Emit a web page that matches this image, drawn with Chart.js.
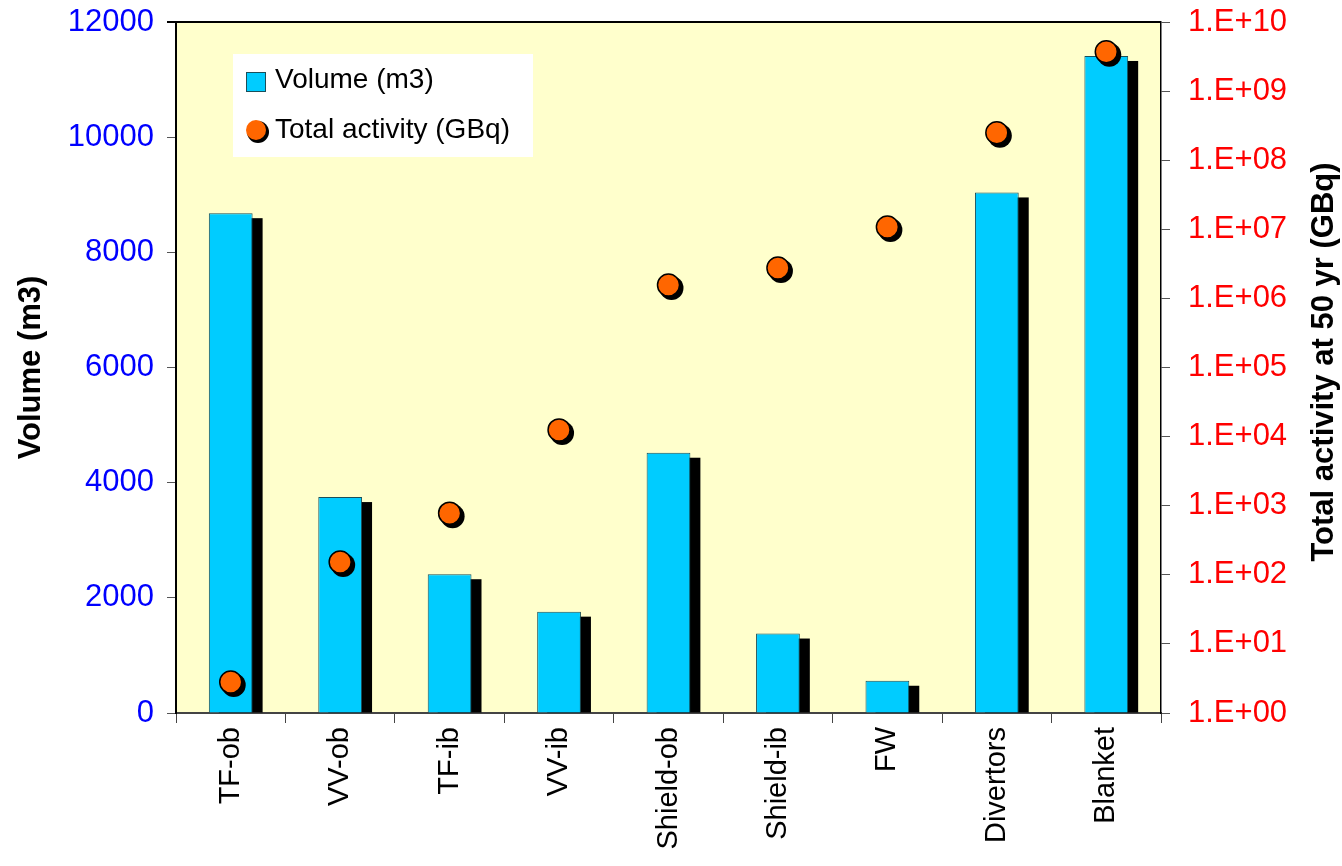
<!DOCTYPE html>
<html>
<head>
<meta charset="utf-8">
<title>Volume and activity</title>
<script src="https://cdn.jsdelivr.net/npm/chart.js@4.4.1/dist/chart.umd.min.js"></script>
<style>
  html, body { margin: 0; padding: 0; background: #fff; }
  #wrap { width: 1342px; height: 866px; position: relative; }
</style>
</head>
<body>
<div id="wrap"><canvas id="chart" width="1342" height="866"></canvas></div>
<script>
// components
const categories = ['TF-ob', 'VV-ob', 'TF-ib', 'VV-ib', 'Shield-ob', 'Shield-ib', 'FW', 'Divertors', 'Blanket'];
// volume in m3 (left axis)
const volume = [8680, 3750, 2410, 1760, 4520, 1380, 560, 9040, 11410];
// total activity at 50 yr in GBq (right axis, log)
const activity = [2.8, 153, 780, 12500, 1.56e6, 2.75e6, 1.08e7, 2.5e8, 3.7e9];
const activityTicks = [1, 1e1, 1e2, 1e3, 1e4, 1e5, 1e6, 1e7, 1e8, 1e9, 1e10];

const legendLabels = ['Volume (m3)', 'Total activity (GBq)'];
const leftTitle = 'Volume (m3)';
const rightTitle = 'Total activity at 50 yr (GBq)';

const FONT = 'Arial, "Liberation Sans", sans-serif';

// plot background, bar shadows, dot shadows, legend, axis titles
const decor = {
    id: 'decor',
    beforeDraw(chart) {
        const a = chart.chartArea, ctx = chart.ctx;
        ctx.save();
        ctx.fillStyle = '#FFFFCC';
        ctx.fillRect(a.left, a.top, a.right - a.left, a.bottom - a.top);
        ctx.restore();
    },
    beforeDatasetDraw(chart, args) {
        if (args.index !== 0) return;
        const ctx = chart.ctx;
        ctx.save();
        ctx.fillStyle = '#000';
        args.meta.data.forEach(bar => {
            const w = bar.width;
            ctx.fillRect(bar.x - w / 2 + 10, bar.y + 5, w, bar.base - bar.y - 5);
        });
        ctx.restore();
    },
    afterDatasetDraw(chart, args) {
        if (args.index !== 0) return;
        const ctx = chart.ctx;
        ctx.save();
        ctx.fillStyle = '#000';
        chart.getDatasetMeta(1).data.forEach(p => {
            ctx.beginPath();
            ctx.arc(p.x + 3, p.y + 3, 12, 0, Math.PI * 2);
            ctx.fill();
        });
        ctx.restore();
    },
    afterDraw(chart) {
        const ctx = chart.ctx, a = chart.chartArea;
        ctx.save();
        // top border of the plot
        ctx.strokeStyle = '#000';
        ctx.lineWidth = 2;
        ctx.beginPath();
        ctx.moveTo(a.left - 9, a.top);
        ctx.lineTo(a.right, a.top);
        ctx.stroke();

        // legend
        ctx.fillStyle = '#fff';
        ctx.fillRect(233, 54, 300, 103);
        ctx.fillStyle = '#00CCFF';
        ctx.strokeStyle = '#1a4f5a';
        ctx.lineWidth = 1;
        ctx.fillRect(246, 72, 19, 19);
        ctx.strokeRect(246.5, 72.5, 19, 19);
        ctx.fillStyle = '#000';
        ctx.beginPath();
        ctx.arc(258, 132, 11, 0, Math.PI * 2);
        ctx.fill();
        ctx.fillStyle = '#FF6600';
        ctx.beginPath();
        ctx.arc(256, 130, 10, 0, Math.PI * 2);
        ctx.fill();
        ctx.fillStyle = '#000';
        ctx.font = '28px ' + FONT;
        ctx.textBaseline = 'middle';
        ctx.fillText(legendLabels[0], 275, 80);
        ctx.fillText(legendLabels[1], 275, 130);

        // axis titles
        ctx.font = 'bold 31px ' + FONT;
        ctx.textAlign = 'center';
        ctx.translate(31, (a.top + a.bottom) / 2);
        ctx.rotate(-Math.PI / 2);
        ctx.fillText(leftTitle, 0, 0);
        ctx.setTransform(1, 0, 0, 1, 0, 0);
        ctx.translate(1324, 362);
        ctx.rotate(-Math.PI / 2);
        ctx.fillText(rightTitle, 0, 0);
        ctx.restore();
    }
};

const ctx = document.getElementById('chart').getContext('2d');
new Chart(ctx, {
    type: 'bar',
    data: {
        labels: categories,
        datasets: [{
            label: legendLabels[0],
            data: volume,
            backgroundColor: '#00CCFF',
            borderColor: '#1a4f5a',
            borderWidth: 1,
            barPercentage: 0.4,
            categoryPercentage: 1,
            yAxisID: 'y',
            order: 2
        }, {
            type: 'line',
            label: legendLabels[1],
            data: activity,
            showLine: false,
            pointRadius: 11,
            pointBackgroundColor: '#FF6600',
            pointBorderColor: '#000',
            pointBorderWidth: 1.5,
            yAxisID: 'y1',
            order: 1
        }]
    },
    plugins: [decor],
    options: {
        responsive: false,
        animation: false,
        devicePixelRatio: 1,
        layout: { padding: { top: 22, left: 0, right: 0, bottom: 0 } },
        plugins: {
            legend: { display: false },
            tooltip: { enabled: false }
        },
        scales: {
            x: {
                grid: { drawOnChartArea: false, drawTicks: true, tickLength: 10, color: '#444', offset: true },
                border: { display: true, color: '#444', width: 2 },
                ticks: {
                    color: '#000',
                    font: { size: 29, family: FONT },
                    minRotation: 90,
                    maxRotation: 90,
                    padding: 4,
                    autoSkip: false
                },
                afterFit(s) { s.height = 153; s.paddingLeft = 0; s.paddingRight = 0; }
            },
            y: {
                position: 'left',
                min: 0,
                max: 12000,
                grid: { drawOnChartArea: false, drawTicks: true, tickLength: 9, color: '#555' },
                border: { display: true, color: '#000', width: 2 },
                ticks: {
                    stepSize: 2000,
                    color: '#0000FF',
                    font: { size: 31, family: FONT },
                    padding: 13,
                    callback(v) { return String(v); }
                },
                afterFit(s) { s.width = 176; s.paddingTop = 0; s.paddingBottom = 0; }
            },
            y1: {
                type: 'logarithmic',
                position: 'right',
                min: 1,
                max: 1e10,
                grid: { drawOnChartArea: false, drawTicks: true, tickLength: 9, color: '#555' },
                border: { display: true, color: '#000', width: 1.5 },
                ticks: {
                    color: '#FF0000',
                    font: { size: 31, family: FONT },
                    padding: 18,
                    callback(v) {
                        const e = Math.round(Math.log10(v));
                        return '1.E+' + String(e).padStart(2, '0');
                    }
                },
                afterBuildTicks(s) { s.ticks = activityTicks.map(v => ({ value: v })); },
                afterFit(s) { s.width = 181; s.paddingTop = 0; s.paddingBottom = 0; }
            }
        }
    }
});
</script>
</body>
</html>
